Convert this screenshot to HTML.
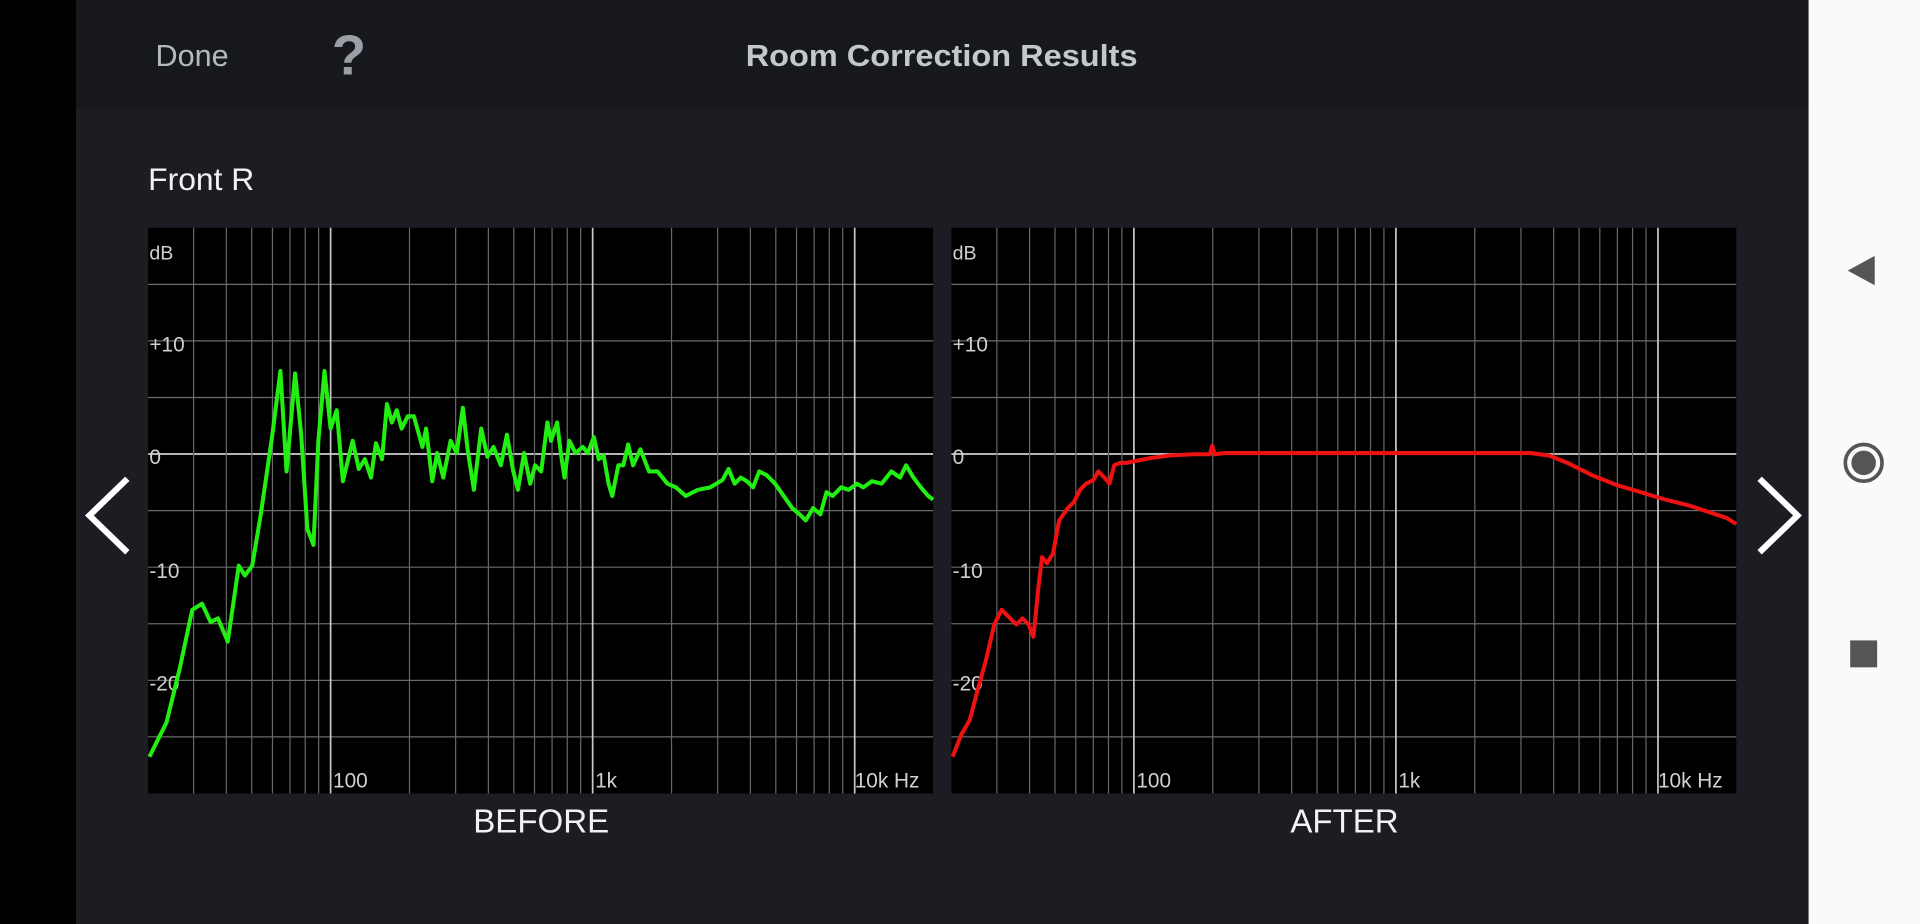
<!DOCTYPE html>
<html><head><meta charset="utf-8"><style>
html,body{margin:0;padding:0;background:#000;overflow:hidden}
svg{display:block}
text{font-family:"Liberation Sans",sans-serif}
</style></head><body>
<svg id="s" width="1920" height="924" viewBox="0 0 1568 754.6" xmlns="http://www.w3.org/2000/svg">
<rect x="0" y="0" width="1568" height="755" fill="#000"/>
<rect x="62" y="0" width="1415" height="755" fill="#1b1d22"/>
<rect x="62" y="0" width="1415" height="88" fill="#16181c"/>
<rect x="1477" y="0" width="91" height="755" fill="#fafafa"/>
<text x="127" y="54" font-size="25" fill="#b4b8c0">Done</text>
<text x="285" y="61" font-size="46" font-weight="bold" fill="#9a9ea6" text-anchor="middle">?</text>
<text x="769" y="54" font-size="25" font-weight="bold" fill="#c4c8ce" text-anchor="middle" textLength="320" lengthAdjust="spacingAndGlyphs">Room Correction Results</text>
<text x="121" y="155" font-size="26" fill="#f2f2f2">Front R</text>
<g id="c1"></g><g id="c2"></g>
<text x="442" y="680" font-size="27" fill="#f2f2f2" text-anchor="middle">BEFORE</text>
<text x="1098" y="680" font-size="27" fill="#f2f2f2" text-anchor="middle">AFTER</text>
<polyline points="104,391 73,421 104,451" fill="none" stroke="#fff" stroke-width="5"/>
<polyline points="1437,391 1468,421 1437,451" fill="none" stroke="#fff" stroke-width="5"/>
<polygon points="1509,221 1531,209 1531,233" fill="#555"/>
<circle cx="1522" cy="378" r="15" fill="none" stroke="#555" stroke-width="3"/>
<circle cx="1522" cy="378" r="10" fill="#555"/>
<rect x="1511" y="523" width="22" height="22" fill="#555"/>
</svg>
<script>
const NS="http://www.w3.org/2000/svg";
function el(p,t,a,txt){const e=document.createElementNS(NS,t);for(const k in a)e.setAttribute(k,a[k]);if(txt)e.textContent=txt;p.appendChild(e);return e;}
function chart(g,off,pts,color){
 const L=121+off,R=762+off,T=186,B=648;
 el(g,'rect',{x:L,y:T,width:R-L,height:B-T,fill:'#000'});
 for(let i=1;i<10;i++){const y=T+i*46.2;el(g,'line',{x1:L,x2:R,y1:y,y2:y,stroke:(i==4)?'#d0d0d0':'#6a6a6a','stroke-width':(i==4)?1.4:1});}
 [30,40,50,60,70,80,90,100,200,300,400,500,600,700,800,900,1000,2000,3000,4000,5000,6000,7000,8000,9000,10000].forEach(f=>{
  const x=270+off+214*Math.log10(f/100);const maj=(f==100||f==1000||f==10000);
  el(g,'line',{x1:x,x2:x,y1:T,y2:B,stroke:maj?'#c8c8c8':'#666','stroke-width':maj?1.4:1});});
 const tc='#d0d0d0';
 el(g,'text',{x:L+1,y:212,'font-size':16,fill:tc},'dB');
 el(g,'text',{x:L+1,y:287,'font-size':17,fill:tc},'+10');
 el(g,'text',{x:L+1,y:379,'font-size':17,fill:tc},'0');
 el(g,'text',{x:L+1,y:472,'font-size':17,fill:tc},'-10');
 el(g,'text',{x:L+1,y:564,'font-size':17,fill:tc},'-20');
 el(g,'text',{x:272+off,y:643,'font-size':17,fill:tc},'100');
 el(g,'text',{x:486+off,y:643,'font-size':17,fill:tc},'1k');
 el(g,'text',{x:698+off,y:643,'font-size':17,fill:tc},'10k Hz');
 el(g,'polyline',{points:pts,fill:'none',stroke:color,'stroke-width':3.3,'stroke-linejoin':'round'});
}
const green="122,618 136,590 147,545 157,498 165,493 172,508 178,505 186,524 195,462 200,470 206,462 213,420 222,358 229,303 234,385 241,305 246,355 251,432 256,445 260,360 265,303 270,350 275,335 280,393 288,360 293,383 298,375 303,390 307,362 312,375 316,330 320,345 324,335 328,350 333,340 338,340 345,365 348,350 353,393 357,370 362,390 368,360 373,370 378,333 382,368 387,400 393,350 398,373 403,365 409,380 414,355 419,384 423,400 428,370 433,395 437,380 442,385 447,345 450,360 455,345 458,370 461,390 465,360 470,370 476,365 480,370 485,357 489,375 493,372 497,395 500,405 505,380 509,380 513,363 517,380 523,367 530,385 537,385 545,395 552,398 560,405 570,400 580,398 590,392 595,383 600,395 605,390 610,393 615,398 620,385 626,388 633,395 640,405 647,415 653,420 658,425 664,415 670,420 675,402 680,405 687,398 693,400 700,395 705,398 712,393 720,395 728,385 735,390 740,380 746,390 752,398 758,405 762,408";
const red="778,618 785,600 792,588 798,565 805,540 812,510 818,498 825,505 830,510 835,505 840,510 844,520 848,480 851,455 855,460 860,452 865,425 872,415 877,410 882,400 887,395 893,392 897,385 902,390 906,395 910,380 915,378 920,378 925,377 930,376 940,374 955,372 975,371 988,371 990,364 992,371 1000,370 1100,370 1200,370 1250,370 1265,372 1280,378 1300,388 1320,396 1340,402 1360,408 1380,413 1395,418 1410,423 1418,428";
chart(document.getElementById('c1'),0,green,'#22ee11');
chart(document.getElementById('c2'),656,red,'#ee1111');
</script>
</body></html>
